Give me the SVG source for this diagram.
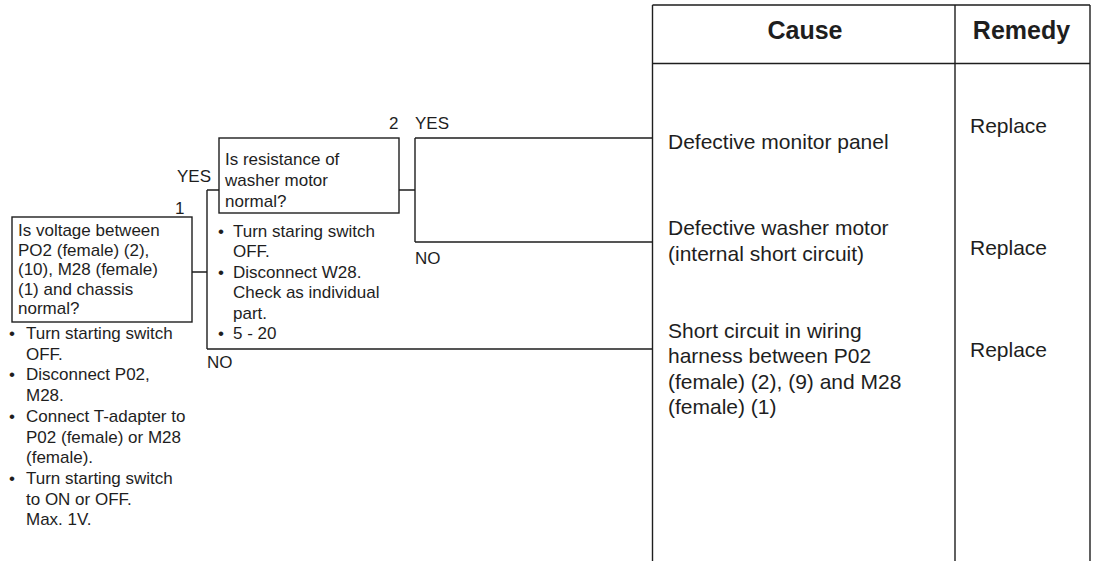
<svg xmlns="http://www.w3.org/2000/svg" width="1095" height="561" viewBox="0 0 1095 561">
<style>
  .ln{stroke:#1e1e1e;stroke-width:1.4;fill:none}
  .bx{stroke:#1e1e1e;stroke-width:1.4;fill:#fff}
  text{font-family:"Liberation Sans",Arial,sans-serif;fill:#1e1e1e}
  .t{font-size:17px}
  .c{font-size:21px}
  .h{font-size:25px;font-weight:bold;text-anchor:middle}
</style>
<rect width="1095" height="561" fill="#fff"/>
<g id="connectors">
  <path class="ln" d="M192 272H207M207 190V349M207 190H219M207 349H653"/>
  <path class="ln" d="M399 190H415M415 138V242M415 138H653M415 242H653"/>
  <text class="t" x="177" y="182">YES</text>
  <text class="t" x="207" y="368">NO</text>
  <text class="t" x="415" y="129">YES</text>
  <text class="t" x="415" y="264">NO</text>
</g>
<g id="node1">
  <text class="t" x="175" y="214">1</text>
  <rect class="bx" x="12" y="217" width="180" height="105"/>
  <text class="t" x="18" y="236">Is voltage between</text>
  <text class="t" x="18" y="255.5">PO2 (female) (2),</text>
  <text class="t" x="18" y="275">(10), M28 (female)</text>
  <text class="t" x="18" y="294.5">(1) and chassis</text>
  <text class="t" x="18" y="314">normal?</text>
  <text class="t" x="9" y="339">•</text><text class="t" x="26" y="339">Turn starting switch</text>
  <text class="t" x="26" y="359.7">OFF.</text>
  <text class="t" x="9" y="380.4">•</text><text class="t" x="26" y="380.4">Disconnect P02,</text>
  <text class="t" x="26" y="401">M28.</text>
  <text class="t" x="9" y="421.8">•</text><text class="t" x="26" y="421.8">Connect T-adapter to</text>
  <text class="t" x="26" y="442.5">P02 (female) or M28</text>
  <text class="t" x="26" y="463">(female).</text>
  <text class="t" x="9" y="484">•</text><text class="t" x="26" y="484">Turn starting switch</text>
  <text class="t" x="26" y="504.7">to ON or OFF.</text>
  <text class="t" x="26" y="525.4">Max. 1V.</text>
</g>
<g id="node2">
  <text class="t" x="389" y="129">2</text>
  <rect class="bx" x="219" y="138" width="180" height="75"/>
  <text class="t" x="225" y="165">Is resistance of</text>
  <text class="t" x="225" y="186">washer motor</text>
  <text class="t" x="225" y="206.7">normal?</text>
  <text class="t" x="218" y="236.7">•</text><text class="t" x="233" y="236.7">Turn staring switch</text>
  <text class="t" x="233" y="257">OFF.</text>
  <text class="t" x="218" y="277.5">•</text><text class="t" x="233" y="277.5">Disconnect W28.</text>
  <text class="t" x="233" y="298">Check as individual</text>
  <text class="t" x="233" y="318.5">part.</text>
  <text class="t" x="218" y="339">•</text><text class="t" x="233" y="339">5 - 20</text>
</g>
<g id="table">
  <path class="ln" d="M652.5 5V561M652.5 5H1090M652.5 63.5H1090M955 5V561M1090 5V561"/>
  <text class="h" x="805" y="39">Cause</text>
  <text class="h" x="1021.5" y="39">Remedy</text>
</g>
<g id="cause1">
  <text class="c" x="668" y="149">Defective monitor panel</text>
  <text class="c" x="970" y="133">Replace</text>
</g>
<g id="cause2">
  <text class="c" x="668" y="235">Defective washer motor</text>
  <text class="c" x="668" y="261">(internal short circuit)</text>
  <text class="c" x="970" y="255">Replace</text>
</g>
<g id="cause3">
  <text class="c" x="668" y="338">Short circuit in wiring</text>
  <text class="c" x="668" y="363.3">harness between P02</text>
  <text class="c" x="668" y="388.6">(female) (2), (9) and M28</text>
  <text class="c" x="668" y="413.9">(female) (1)</text>
  <text class="c" x="970" y="356.7">Replace</text>
</g>
</svg>
